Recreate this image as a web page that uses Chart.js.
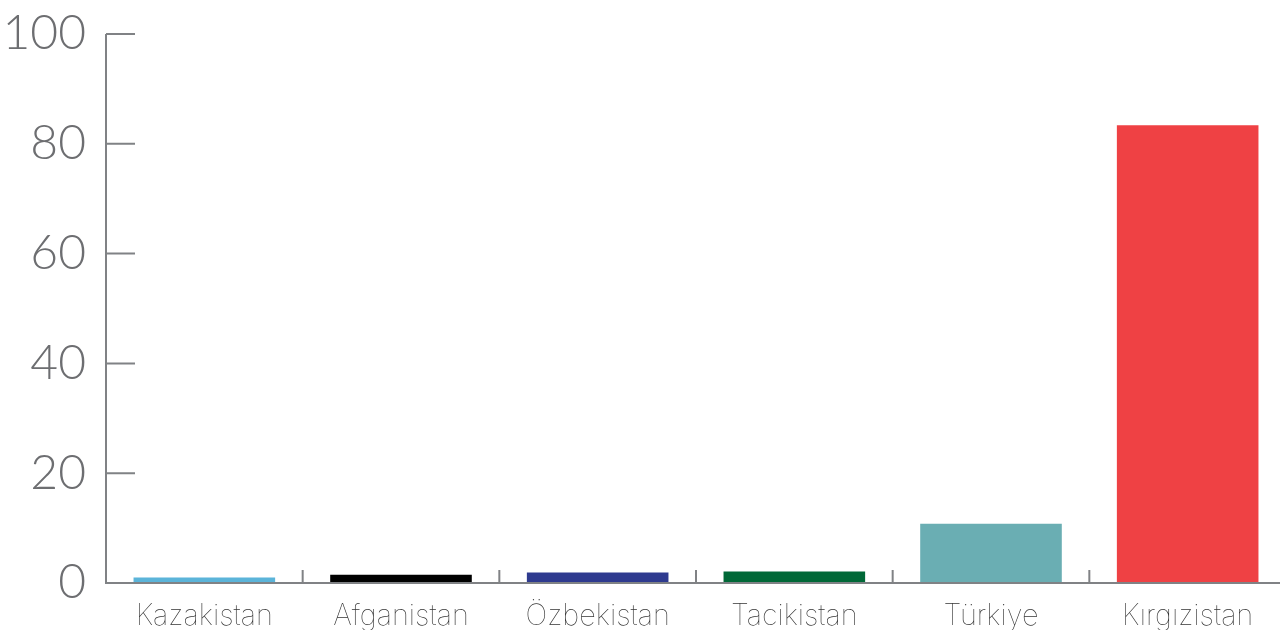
<!DOCTYPE html>
<html>
<head>
<meta charset="utf-8">
<script src="https://cdn.jsdelivr.net/npm/chart.js@4/dist/chart.umd.min.js"></script>
<style>
  html, body { margin: 0; padding: 0; background: #fff; overflow: hidden; }
  #wrap { width: 1286px; height: 630px; }
</style>
</head>
<body>
<div id="wrap"><canvas id="barChart"></canvas></div>
<script>
// values
var countries = ['Kazakistan', 'Afganistan', 'Özbekistan', 'Tacikistan', 'Türkiye', 'Kırgızistan'];
var shares = [1.0, 1.5, 1.9, 2.1, 10.8, 83.4];
var barColors = ['#5bb4d9', '#000000', '#2e3a8f', '#006837', '#6aaeb3', '#ef4144'];
var yTicks = [0, 20, 40, 60, 80, 100];

var axisColor = '#808285';

// draws the axis lines, inward y ticks and upward category separators
var axisPlugin = {
  id: 'axisLines',
  afterDatasetsDraw: function(chart) {
    var ctx = chart.ctx;
    var area = chart.chartArea;
    var x = chart.scales.x;
    var y = chart.scales.y;
    ctx.save();
    ctx.strokeStyle = axisColor;
    ctx.lineWidth = 2;
    ctx.beginPath();
    ctx.moveTo(area.left, y.getPixelForValue(100));
    ctx.lineTo(area.left, area.bottom);
    ctx.lineTo(chart.width, area.bottom);
    yTicks.forEach(function(v) {
      if (v === 0) return;
      var py = y.getPixelForValue(v);
      ctx.moveTo(area.left, py);
      ctx.lineTo(area.left + 29, py);
    });
    for (var i = 1; i < countries.length; i++) {
      var px = (x.getPixelForValue(i - 1) + x.getPixelForValue(i)) / 2;
      ctx.moveTo(px, area.bottom);
      ctx.lineTo(px, area.bottom - 13);
    }
    ctx.stroke();
    ctx.restore();
  }
};

var ctx = document.getElementById('barChart').getContext('2d');
window.barChart = new Chart(ctx, {
  type: 'bar',
  data: {
    labels: countries,
    datasets: [{
      data: shares,
      backgroundColor: barColors,
      borderWidth: 0
    }]
  },
  options: {
    responsive: true,
    maintainAspectRatio: false,
    animation: false,
    layout: { padding: { top: 34, right: 0, left: 0, bottom: 0 } },
    plugins: {
      legend: { display: false },
      tooltip: { enabled: false }
    },
    scales: {
      x: {
        grid: { display: false },
        border: { display: false },
        ticks: {
          color: '#333333',
          padding: 8,
          font: { family: 'Inter', size: 29, weight: 100 }
        },
        afterFit: function(scale) { scale.height = 47; }
      },
      y: {
        min: 0,
        max: 100,
        grid: { display: false },
        border: { display: false },
        afterBuildTicks: function(scale) {
          scale.ticks = yTicks.map(function(v) { return { value: v }; });
        },
        ticks: {
          color: '#6d6e71',
          padding: 12,
          font: { family: 'Lato', size: 48, weight: 300 }
        },
        afterFit: function(scale) {
          scale.width = 106;
          scale.paddingTop = 0;
          scale.paddingBottom = 0;
        }
      }
    }
  },
  plugins: [axisPlugin]
});
</script>
</body>
</html>
